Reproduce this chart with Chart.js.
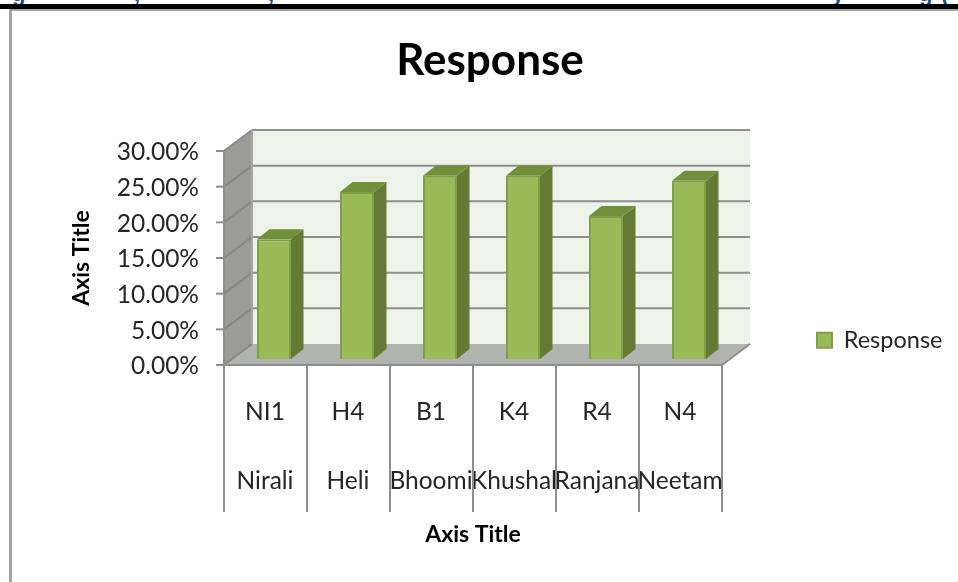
<!DOCTYPE html>
<html>
<head>
<meta charset="utf-8">
<title>Response</title>
<script src="https://cdn.jsdelivr.net/npm/chart.js@4"></script>
<style>
  html, body { margin: 0; padding: 0; background: #fff; overflow: hidden; }
  #page { position: relative; width: 958px; height: 582px; overflow: hidden; }
  #heading { position: absolute; left: 0; top: 0; width: 958px; height: 4px; overflow: hidden; }
  #heading span { position: absolute; top: -19px; font: bold 22px "Liberation Sans", sans-serif; color: #1f4e84; }
  #rule { position: absolute; left: 0; top: 4px; width: 958px; height: 5px; background: #000; }
  #frame { position: absolute; left: 9px; top: 9px; width: 949px; height: 573px;
           border-left: 3px solid #a3a3a3; border-top: 2px solid #a3a3a3; box-sizing: border-box; }
  canvas { position: absolute; left: 0; top: 0; }
</style>
</head>
<body>
<div id="page">
  <div id="heading">
    <span style="left:12px">g</span><span style="left:134px">,</span><span style="left:268px">,</span>
    <span style="left:832px">y</span><span style="left:919px">g</span><span style="left:941px">(</span>
  </div>
  <div id="rule"></div>
  <div id="frame"></div>
  <canvas id="chart" width="958" height="582"></canvas>
</div>
<script>
// ── Data ───────────────────────────────────────────────────────────────────────
const CODES = ['NI1', 'H4', 'B1', 'K4', 'R4', 'N4'];
const NAMES = ['Nirali', 'Heli', 'Bhoomi', 'Khushal', 'Ranjana', 'Neetam'];
const RESPONSE = [16.8, 23.4, 25.7, 25.7, 20.05, 25.0];
const SERIES_NAME = 'Response';
const AXIS_TITLE = 'Axis Title';

// ── 3D look: offsets from the plane the bars stand in ──────────────────────────
const FRONT = { dx: -8.5, dy: 6 };
const BACK = { dx: 19.5, dy: -15 };
const BAR_DEPTH = { dx: 12.5, dy: -10 };
const FONT = 'Lato';
const GRID = '#8e8e8e';

function poly(ctx, fill, pts) {
  ctx.fillStyle = fill;
  ctx.beginPath();
  pts.forEach((p, i) => (i ? ctx.lineTo(p[0], p[1]) : ctx.moveTo(p[0], p[1])));
  ctx.closePath();
  ctx.fill();
}

function line(ctx, color, x1, y1, x2, y2) {
  ctx.strokeStyle = color;
  ctx.lineWidth = 2;
  ctx.beginPath();
  ctx.moveTo(x1, y1);
  ctx.lineTo(x2, y2);
  ctx.stroke();
}

const box3d = {
  id: 'box3d',
  // Title and legend sit outside the plot's own layout boxes
  afterLayout(chart) {
    chart.titleBlock.left = 0;
    chart.titleBlock.right = 980;
    chart.legend.left = 807;
    chart.legend.right = 958;
    chart.legend.top = 318.5;
    chart.legend.bottom = 370;
  },
  beforeDatasetsDraw(chart) {
    const { ctx, scales: { x, y } } = chart;
    const half = (x.getPixelForValue(1) - x.getPixelForValue(0)) / 2;
    const left = x.getPixelForValue(0) - half;
    const right = x.getPixelForValue(CODES.length - 1) + half;
    const y0 = y.getPixelForValue(0);
    const yMax = y.getPixelForValue(30);
    const fl = left + FRONT.dx, fr = right + FRONT.dx, bl = left + BACK.dx, br = right + BACK.dx;

    ctx.save();
    poly(ctx, '#eef3ea', [[bl, yMax + BACK.dy], [br, yMax + BACK.dy], [br, y0 + BACK.dy], [bl, y0 + BACK.dy]]);
    poly(ctx, '#9b9c97', [[fl, yMax + FRONT.dy], [bl, yMax + BACK.dy], [bl, y0 + BACK.dy], [fl, y0 + FRONT.dy]]);
    poly(ctx, '#b1b3ae', [[fl, y0 + FRONT.dy], [bl, y0 + BACK.dy], [br, y0 + BACK.dy], [fr, y0 + FRONT.dy]]);

    // Gridlines run along the back wall, down the side wall, out to the tick
    y.ticks.forEach((t) => {
      const py = y.getPixelForValue(t.value);
      if (t.value > 0) line(ctx, GRID, bl, py + BACK.dy, br, py + BACK.dy);
      line(ctx, '#878884', bl, py + BACK.dy, fl, py + FRONT.dy);
      line(ctx, GRID, fl - 8, py + FRONT.dy, fl, py + FRONT.dy);
    });
    line(ctx, '#a8a9a5', bl, yMax + BACK.dy, bl, y0 + BACK.dy);
    line(ctx, GRID, fl, yMax + FRONT.dy, fl, y0 + FRONT.dy);
    line(ctx, GRID, fl, y0 + FRONT.dy, fr, y0 + FRONT.dy);
    line(ctx, GRID, fr, y0 + FRONT.dy, br, y0 + BACK.dy);

    // Category separators hanging below the floor
    for (let i = 0; i <= CODES.length; i++) {
      const px = left + FRONT.dx + i * half * 2;
      line(ctx, GRID, px, y0 + FRONT.dy, px, 512);
    }

    // Top and side faces of each bar, behind its front face
    chart.getDatasetMeta(0).data.forEach((bar) => {
      const l = bar.x - bar.width / 2, r = bar.x + bar.width / 2;
      const { dx, dy } = BAR_DEPTH;
      poly(ctx, '#647a35', [[r, bar.y], [r + dx, bar.y + dy], [r + dx, bar.base + dy], [r, bar.base]]);
      poly(ctx, '#72903c', [[l, bar.y], [l + dx, bar.y + dy], [r + dx, bar.y + dy], [r, bar.y]]);
    });
    ctx.restore();
  },
  // Axis titles are centred on the front plane, not on the bars' plane
  afterDraw(chart) {
    const { ctx, chartArea: a } = chart;
    ctx.save();
    ctx.fillStyle = '#000';
    ctx.font = `bold 23px ${FONT}`;
    ctx.textAlign = 'center';
    ctx.textBaseline = 'middle';
    ctx.fillText(AXIS_TITLE, (a.left + a.right) / 2 + FRONT.dx, 535);
    ctx.translate(82, (a.top + a.bottom) / 2 + FRONT.dy);
    ctx.rotate(-Math.PI / 2);
    ctx.fillText(AXIS_TITLE, 0, 0);
    ctx.restore();
  },
};

new Chart(document.getElementById('chart'), {
  type: 'bar',
  plugins: [box3d],
  data: {
    labels: CODES.map((code, i) => [code, NAMES[i]]),
    datasets: [{
      label: SERIES_NAME,
      data: RESPONSE,
      backgroundColor: '#9bbb59',
      borderColor: '#7f9f49',
      borderWidth: 2,
      barPercentage: 0.41,
      categoryPercentage: 1,
    }],
  },
  options: {
    responsive: false,
    animation: false,
    layout: { padding: { left: 0, right: 227.5, top: 0, bottom: 0 } },
    plugins: {
      tooltip: { enabled: false },
      title: {
        display: true,
        text: SERIES_NAME,
        color: '#000',
        font: { family: FONT, size: 44, weight: 'bold', lineHeight: 1.2 },
        padding: { top: 34.6, bottom: 57.6 },
      },
      legend: {
        position: 'chartArea',
        align: 'start',
        labels: {
          boxWidth: 15,
          boxHeight: 15,
          padding: 10,
          color: '#262626',
          font: { family: FONT, size: 23.5 },
        },
      },
    },
    scales: {
      x: {
        grid: { display: false, drawTicks: false },
        border: { display: false },
        afterFit: (s) => { s.height = 223; },
        ticks: {
          autoSkip: false,
          maxRotation: 0,
          minRotation: 0,
          padding: 19,
          labelOffset: -9,
          color: '#262626',
          font: { family: FONT, size: 24.5, lineHeight: 2.816 },
        },
      },
      y: {
        min: 0,
        max: 30,
        grid: { display: false, drawTicks: false },
        border: { display: false },
        afterFit: (s) => { s.width = 232.5; },
        ticks: {
          stepSize: 5,
          padding: 33.5,
          labelOffset: 7.5,
          color: '#262626',
          font: { family: FONT, size: 24.5 },
          callback: (v) => `${v.toFixed(2)}%`,
        },
      },
    },
  },
});
</script>
</body>
</html>
